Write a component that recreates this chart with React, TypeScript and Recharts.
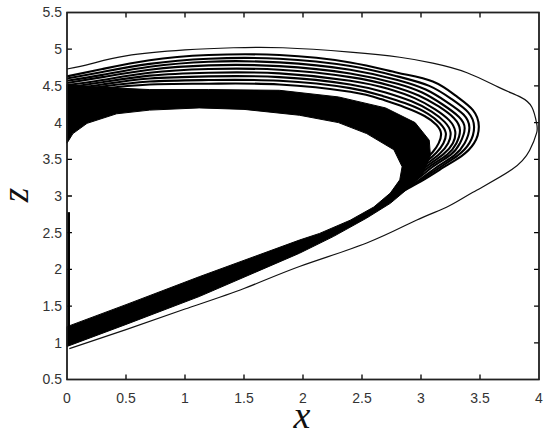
import { ScatterChart, Scatter, XAxis, YAxis } from "recharts";

// axis ticks
const xTicks = [0, 0.5, 1, 1.5, 2, 2.5, 3, 3.5, 4];
const zTicks = [0.5, 1, 1.5, 2, 2.5, 3, 3.5, 4, 4.5, 5, 5.5];

// first (transient) orbit
const outerLoop: [number, number][] = [
  [0.02, 0.92], [0.5, 1.18], [1.0, 1.46], [1.5, 1.74], [1.97, 2.04],
  [2.54, 2.36], [2.96, 2.67], [3.22, 2.85], [3.44, 3.05], [3.77, 3.36],
  [3.92, 3.62], [3.98, 3.86], [3.98, 3.99], [3.94, 4.21], [3.84, 4.35],
  [3.66, 4.48], [3.39, 4.68], [3.1, 4.81], [2.82, 4.89], [2.4, 4.96],
  [1.83, 5.02], [1.41, 5.02], [1.0, 4.99], [0.5, 4.91], [0.2, 4.8], [0, 4.73],
];

// dense part of the attractor: outer edge then inner edge
const bandOuterEdge: [number, number][] = [
  [0, 0.95], [0.5, 1.25], [1.12, 1.63], [1.97, 2.22], [2.26, 2.45],
  [2.54, 2.7], [2.74, 2.9], [2.91, 3.13], [3.02, 3.32], [3.08, 3.55],
  [3.07, 3.76], [2.95, 4.0], [2.7, 4.2], [2.3, 4.35], [1.8, 4.44],
  [1.2, 4.45], [0.7, 4.45], [0.3, 4.48], [0, 4.52],
];
const bandInnerEdge: [number, number][] = [
  [0, 3.72], [0.05, 3.85], [0.17, 3.99], [0.42, 4.12], [0.7, 4.17],
  [1.12, 4.2], [1.5, 4.18], [1.97, 4.1], [2.3, 4.0], [2.54, 3.85],
  [2.77, 3.63], [2.84, 3.4], [2.82, 3.22], [2.74, 3.04], [2.6, 2.85],
  [2.4, 2.67], [2.14, 2.49], [1.97, 2.4], [1.12, 1.9], [0.5, 1.52], [0, 1.22],
];

// separate orbits visible in the upper / right part
const stripeLoops: [number, number][][] = [
  [[0, 4.63], [0.3, 4.73], [0.7, 4.85], [1.2, 4.92], [1.8, 4.92], [2.4, 4.82], [2.8, 4.68], [3.1, 4.56], [3.3, 4.36], [3.44, 4.17], [3.49, 3.95], [3.45, 3.72], [3.34, 3.54], [3.2, 3.4], [3.0, 3.2], [2.8, 3.02], [2.64, 2.82]],
  [[0, 4.6], [0.3, 4.69], [0.7, 4.8], [1.2, 4.87], [1.8, 4.87], [2.4, 4.77], [2.8, 4.63], [3.07, 4.5], [3.26, 4.32], [3.4, 4.14], [3.45, 3.94], [3.41, 3.72], [3.31, 3.55], [3.17, 3.4], [2.98, 3.2], [2.8, 3.03], [2.64, 2.83]],
  [[0, 4.57], [0.3, 4.65], [0.7, 4.76], [1.2, 4.83], [1.8, 4.82], [2.4, 4.72], [2.8, 4.58], [3.04, 4.45], [3.22, 4.28], [3.36, 4.11], [3.41, 3.93], [3.37, 3.72], [3.28, 3.55], [3.14, 3.4], [2.97, 3.2], [2.8, 3.03], [2.64, 2.83]],
  [[0, 4.54], [0.3, 4.62], [0.7, 4.72], [1.2, 4.78], [1.8, 4.77], [2.4, 4.67], [2.8, 4.53], [3.01, 4.41], [3.18, 4.25], [3.32, 4.08], [3.37, 3.92], [3.33, 3.72], [3.25, 3.56], [3.11, 3.41], [2.96, 3.22], [2.8, 3.04], [2.64, 2.84]],
  [[0, 4.51], [0.3, 4.58], [0.7, 4.68], [1.2, 4.73], [1.8, 4.72], [2.4, 4.62], [2.75, 4.5], [2.98, 4.37], [3.15, 4.22], [3.28, 4.06], [3.33, 3.9], [3.3, 3.72], [3.22, 3.56], [3.09, 3.42], [2.95, 3.24], [2.8, 3.05], [2.64, 2.84]],
  [[0, 4.48], [0.3, 4.55], [0.7, 4.64], [1.2, 4.68], [1.8, 4.67], [2.4, 4.57], [2.72, 4.46], [2.95, 4.33], [3.12, 4.18], [3.24, 4.03], [3.29, 3.88], [3.27, 3.72], [3.19, 3.57], [3.07, 3.43], [2.94, 3.26], [2.8, 3.06], [2.64, 2.85]],
  [[0, 4.45], [0.3, 4.52], [0.7, 4.6], [1.2, 4.63], [1.8, 4.62], [2.4, 4.52], [2.7, 4.41], [2.92, 4.29], [3.09, 4.15], [3.2, 4.01], [3.25, 3.87], [3.23, 3.72], [3.16, 3.58], [3.05, 3.44], [2.93, 3.28], [2.8, 3.07], [2.64, 2.85]],
  [[0, 4.42], [0.3, 4.49], [0.7, 4.56], [1.2, 4.58], [1.8, 4.57], [2.4, 4.47], [2.68, 4.36], [2.89, 4.25], [3.06, 4.12], [3.16, 3.99], [3.21, 3.86], [3.19, 3.72], [3.13, 3.59], [3.03, 3.45], [2.92, 3.3], [2.8, 3.08], [2.64, 2.86]],
  [[0, 4.39], [0.3, 4.46], [0.7, 4.52], [1.2, 4.53], [1.8, 4.52], [2.4, 4.42], [2.66, 4.32], [2.86, 4.21], [3.03, 4.09], [3.13, 3.97], [3.17, 3.85], [3.15, 3.72], [3.1, 3.6], [3.01, 3.46], [2.91, 3.32], [2.8, 3.09], [2.64, 2.86]],
];

// drop along the z axis
const leftDrop: [number, number][] = [[0.015, 2.78], [0.015, 1.0]];

const toPts = (a: [number, number][]) => a.map(([x, z]) => ({ x, z }));
const bandPolygon = toPts([...bandOuterEdge, ...bandInnerEdge]);

const NoShape = () => <g />;

const X0 = 0, X1 = 4, Z0 = 0.5, Z1 = 5.5;
// inward tick length (~5px) in data units
const TICK_DX = 0.042;
const TICK_DZ = 0.068;

// box outline with inward tick spikes, built from the tick lists
const boxPath = [
  ...xTicks.flatMap((t) => [{ x: t, z: Z0 }, { x: t, z: Z0 + TICK_DZ }, { x: t, z: Z0 }]),
  ...zTicks.flatMap((t) => [{ x: X1, z: t }, { x: X1 - TICK_DX, z: t }, { x: X1, z: t }]),
  ...[...xTicks].reverse().flatMap((t) => [{ x: t, z: Z1 }, { x: t, z: Z1 - TICK_DZ }, { x: t, z: Z1 }]),
  ...[...zTicks].reverse().flatMap((t) => [{ x: X0, z: t }, { x: X0 + TICK_DX, z: t }, { x: X0, z: t }]),
];

// plot box in page pixels (chart sits at the page origin)
const PLOT = { left: 67, top: 12.5, right: 539, bottom: 379.5 };

const labelFont = { fill: "#333", fontSize: 14, fontFamily: "Liberation Sans, Arial, sans-serif" };

const BottomTick = (p: any) => (
  <text x={p.x} y={p.y} dy="0.71em" textAnchor="middle" {...labelFont}>
    {p.payload.value}
  </text>
);
const LeftTick = (p: any) => (
  <text x={p.x} y={p.y} dy="0.35em" textAnchor="end" {...labelFont}>
    {p.payload.value}
  </text>
);

export default function App() {
  return (
    <div style={{ position: "absolute", left: 0, top: 0, width: 550, height: 435, background: "#fff" }}>
      <ScatterChart width={550} height={435} margin={{ top: 12.5, right: 11, bottom: 25.5, left: 20 }}>
        <XAxis
          type="number"
          dataKey="x"
          domain={[X0, X1]}
          ticks={xTicks}
          interval={0}
          height={30}
          tickSize={0}
          tickLine={false}
          axisLine={false}
          tickMargin={14}
          tick={BottomTick}
        />
        <YAxis
          type="number"
          dataKey="z"
          domain={[Z0, Z1]}
          ticks={zTicks}
          interval={0}
          width={47}
          tickSize={0}
          tickLine={false}
          axisLine={false}
          tickMargin={5}
          tick={LeftTick}
        />
        {/* MATLAB style box with inward ticks */}
        <Scatter
          data={boxPath}
          shape={NoShape}
          line={{ stroke: "#000", strokeWidth: 1.3 }}
          isAnimationActive={false}
        />
        <Scatter
          data={bandPolygon}
          shape={NoShape}
          line={{ stroke: "#000", strokeWidth: 1, fill: "#000" }}
          lineJointType="linearClosed"
          isAnimationActive={false}
        />
        {stripeLoops.map((loop, i) => (
          <Scatter
            key={i}
            data={toPts(loop)}
            shape={NoShape}
            line={{ stroke: "#000", strokeWidth: 2.1 }}
            lineJointType="natural"
            isAnimationActive={false}
          />
        ))}
        <Scatter
          data={toPts(outerLoop)}
          shape={NoShape}
          line={{ stroke: "#111", strokeWidth: 1.2 }}
          lineJointType="natural"
          isAnimationActive={false}
        />
        <Scatter
          data={toPts(leftDrop)}
          shape={NoShape}
          line={{ stroke: "#000", strokeWidth: 2.5 }}
          isAnimationActive={false}
        />
      </ScatterChart>
      <svg width={550} height={435} style={{ position: "absolute", left: 0, top: 0, pointerEvents: "none" }}>
        <rect
          x={PLOT.left}
          y={PLOT.top}
          width={PLOT.right - PLOT.left}
          height={PLOT.bottom - PLOT.top}
          fill="none"
          stroke="#222"
          strokeWidth={1.3}
        />
        <text
          x={302}
          y={428}
          textAnchor="middle"
          fontSize={38}
          fontStyle="italic"
          fontFamily="Liberation Serif, Times New Roman, serif"
          fill="#111"
        >
          x
        </text>
        <text
          transform="translate(28,195) rotate(-90)"
          textAnchor="middle"
          fontSize={37}
          fontStyle="italic"
          fontFamily="Liberation Serif, Times New Roman, serif"
          fill="#111"
        >
          z
        </text>
      </svg>
    </div>
  );
}
